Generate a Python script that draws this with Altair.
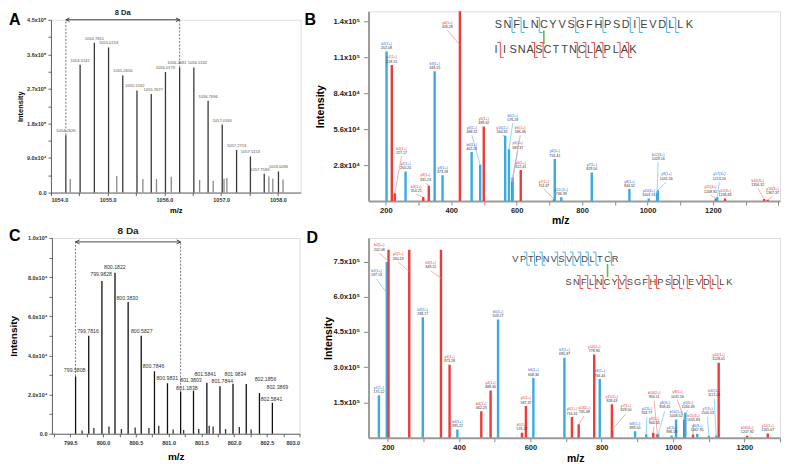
import altair as alt
import pandas as pd

FONT = "Liberation Sans"
BLUE = "#3aabe2"
RED = "#ef3a3a"
BLUE_TXT = "#2f62d8"
RED_TXT = "#e8322f"
BLUE_LEAD = "#6cc6ef"
RED_LEAD = "#f28a8a"
GREEN = "#66bb44"

# ---------------- Panel A (MS1 isotope cluster) ----------------
A_mz = [1054.2626, 1054.5141, 1054.7651, 1055.0153, 1055.2656, 1055.5162, 1055.7677,
        1056.0179, 1056.2681, 1056.5182, 1056.7696, 1057.0184, 1057.2713, 1057.5153,
        1057.7588, 1058.0096]
A_int = [149000, 333000, 390000, 378000, 305000, 266000, 257000, 314000, 326000, 326000,
         239000, 177000, 111000, 94000, 49000, 55000]
# label anchors (m/z, intensity) where the label is not centred over its peak
A_lab_pos = {1055.5162: (1055.48, 266000), 1055.7677: (1055.80, 257000),
             1056.2681: (1056.22, 326000), 1056.5182: (1056.58, 326000),
             1057.7588: (1057.68, 49000)}
A_minor_mz = [1054.34, 1055.16, 1055.62, 1055.86, 1056.12, 1056.62, 1056.86, 1057.05,
              1057.10, 1057.84, 1057.91, 1058.09]
A_minor_int = [35000, 43000, 35000, 35000, 41000, 33000, 31000, 36000, 38000, 42000,
               36000, 34000]
A_span = [1054.2626, 1056.2681]
A_level = 450000
A_xticks = [1054.0, 1054.5, 1055.0, 1055.5, 1056.0, 1056.5, 1057.0, 1057.5, 1058.0]
A_yticks = [0, 45000, 90000, 135000, 180000, 225000, 270000, 315000, 360000, 405000, 450000]
A_ylabels = {0: "0.0", 90000: "9.0x10⁴", 180000: "1.8x10⁵", 270000: "2.7x10⁵",
             360000: "3.6x10⁵", 450000: "4.5x10⁵"}

# ---------------- Panel C (MS1 isotope cluster) ----------------
C_mz = [799.5808, 799.7816, 799.9828, 800.1822, 800.3830, 800.5827, 800.7846, 800.9831,
        801.1838, 801.3803, 801.5841, 801.7844, 801.9834, 802.1856, 802.3869, 802.5841]
C_int = [29300, 50000, 78000, 82200, 67300, 50000, 31900, 25800, 21500, 22000, 26100,
         24200, 25500, 25400, 20800, 15800]
C_lab_pos = {799.5808: (799.567, 30800), 799.7816: (799.77, 50900),
             799.9828: (799.97, 79900), 800.1822: (800.18, 83500),
             800.3830: (800.37, 67700), 800.5827: (800.59, 50900),
             800.7846: (800.77, 33100), 800.9831: (800.98, 27000),
             801.1838: (801.28, 21900), 801.3803: (801.34, 25700),
             801.5841: (801.56, 29000), 801.7844: (801.82, 25400),
             801.9834: (802.02, 29000), 802.1856: (802.48, 26200),
             802.3869: (802.66, 22400), 802.5841: (802.57, 16300)}
C_minor_mz = [799.68, 799.86, 800.09, 800.28, 800.49, 800.70, 800.85, 801.07, 801.23,
              801.46, 801.62, 801.68, 801.87, 802.08, 802.26]
C_minor_int = [1700, 2900, 3700, 2400, 3200, 2900, 4100, 2200, 1900, 2400, 4100, 3700,
               2400, 3400, 2200]
C_span = [799.5808, 801.1838]
C_level = 98000
C_xticks = [799.25 + 0.25 * i for i in range(16)]
C_yticks = [0, 10000, 20000, 30000, 40000, 50000, 60000, 70000, 80000, 90000, 100000]
C_ylabels = {0: "0.0", 20000: "2.0x10⁴", 40000: "4.0x10⁴", 60000: "6.0x10⁴",
             80000: "8.0x10⁴", 100000: "1.0x10⁵"}

# ---------------- Panel B (MS2) ----------------
B_mz = [202.08, 218.15, 227.17, 260.20, 314.21, 331.23, 349.15, 373.28, 426.28, 462.23,
        488.31, 499.32, 564.81, 576.28, 586.36, 587.37, 612.41, 714.37, 716.42, 736.39,
        829.50, 944.52, 1003.74, 1029.16, 1031.56, 1208.92, 1213.24, 1236.83, 1356.32,
        1367.37]
B_int = [116400, 106000, 6000, 23100, 3100, 11900, 101000, 20000, 150000, 38100,
         28200, 58100, 50800, 40400, 15000, 18400, 24100, 1500, 32700, 2900,
         22300, 9300, 2000, 6500, 8500, 2000, 3000, 2000, 1500, 1000]
B_ion = ["b2(1+)", "y2(1+)", "b2(1+)", "y2(1+)", "b3(1+)", "y3(1+)", "b3(1+)", "y3(1+)",
         "y4(1+)", "b4(1+)", "y4(1+)", "y5(1+)", "y10(2+)", "b5(1+)", "b6(1+)", "y5(1+)",
         "y6(1+)", "y7(1+)", "y6(1+)", "y13 (2+)", "y7(1+)", "y8(1+)", "y20(4+)",
         "b12(3+)", "y9(1+)", "y11(3+)", "y17(3+)", "y12(3+)", "b16(3+)", "y16(3+)"]
B_kind = ["b", "r", "r", "b", "r", "r", "b", "b", "r", "b", "b", "r", "b", "b", "r", "b",
          "r", "r", "b", "b", "b", "b", "b", "b", "b", "r", "b", "r", "r", "r"]
# offset labels: peak m/z -> (label m/z, label intensity, leader end intensity)
B_leads = {227.17: (248, 35000, 6000), 314.21: (293, 5400, 3100),
           331.23: (321, 14000, 11900), 426.28: (388, 133000, 121600),
           488.31: (463, 51300, 28200), 564.81: (556, 50800, 50800),
           576.28: (588, 60700, 40400),
           586.36: (611, 51300, 15000), 587.37: (603, 39000, 18400),
           714.37: (683, 9300, 1500), 1029.16: (1032.5, 30300, 6500),
           1031.56: (1057.5, 14800, 8500), 1208.92: (1192.5, 4700, 2000),
           1213.24: (1219.5, 14800, 3000), 1356.32: (1337, 10000, 1500),
           1367.37: (1382, 3500, 1000)}
B_xticks = list(range(200, 1401, 100))
B_yticks = [28000, 56000, 84000, 112000, 140000]
B_ylabels = {28000: "2.8x10⁴", 56000: "5.6x10⁴", 84000: "8.4x10⁴", 112000: "1.1x10⁵",
             140000: "1.4x10⁵"}
B_seq1 = "SNFLNCYVSGFHPSDIEVDLLK"
B_gaps1 = [2, 3, 5, 9, 12, 15, 16, 19, 20]
B_seq2 = "IISNASCTTNCLAPLAK"
B_gaps2 = [1, 5, 6, 10, 11, 12, 13, 15, 16]
B_link = 5

# ---------------- Panel D (MS2) ----------------
D_mz = [175.12, 197.13, 202.08, 260.19, 298.17, 349.15, 373.28, 395.22, 462.23, 488.30,
        509.27, 576.27, 587.37, 608.34, 695.37, 716.41, 735.38, 778.90, 794.44, 828.43,
        829.50, 893.50, 924.77, 944.53, 956.11, 958.45, 996.19, 1008.52, 1031.56,
        1034.49, 1055.83, 1067.91, 1100.53, 1121.01, 1128.01, 1207.92, 1265.67]
D_int = [181000, 748000, 800000, 800000, 513000, 800000, 311000, 35000, 113000, 201000,
         503000, 21000, 135000, 254000, 340000, 88000, 57000, 354000, 250000, 142000,
         35000, 28000, 15000, 21000, 15000, 15000, 10000, 78000, 78000, 106000, 14000,
         17000, 8000, 10000, 319000, 8000, 18000]
D_ion = ["y1(1+)", "b2(1+)", "b2(1+)", "y2(1+)", "b3(1+)", "b3(1+)", "y3(1+)", "b4(1+)",
         "b4(1+)", "y4(1+)", "b5(1+)", "b5(1+)", "y5(1+)", "b6(1+)", "b7(1+)", "y6(1+)",
         "y13(2+)", "y14(2+)", "b8(1+)", "y15(2+)", "y7(1+)", "b9(1+)", "y2(3+)", "y8(1+)",
         "b10(2+)", "y8(3+)", "y4(3+)", "b10(1+)", "y9(1+)", "y5(3+)", "b15(3+)",
         "y6(3+)", "y7(3+)", "b11(1+)", "y10(1+)", "b16(3+)", "y11(1+)"]
D_kind = ["b", "b", "r", "r", "b", "r", "r", "b", "r", "r", "b", "r", "r", "b", "b", "r",
          "r", "r", "b", "r", "r", "b", "b", "r", "r", "b", "b", "b", "r", "b", "r", "b",
          "b", "b", "r", "r", "r"]
D_leads = {197.13: (168.3, 676000, 616000), 202.08: (175.8, 786000, 750000),
           260.19: (229, 748000, 708000), 349.15: (320.7, 710000, 680000),
           735.38: (751, 93500, 57000), 829.50: (868, 102000, 35000),
           924.77: (926.6, 89000, 15000), 944.53: (947, 47000, 21000),
           956.11: (947, 157000, 15000), 958.45: (977, 115000, 15000),
           1031.56: (1012.6, 161000, 78000), 1034.49: (1042, 116000, 106000),
           1055.83: (1057.5, 59000, 14000),
           1100.53: (1096.8, 89000, 8000), 1121.01: (1115.5, 166000, 10000)}
D_xticks = list(range(200, 1301, 100))
D_yticks = [150000, 300000, 450000, 600000, 750000]
D_ylabels = {150000: "1.5x10⁵", 300000: "3.0x10⁵", 450000: "4.5x10⁵", 600000: "6.0x10⁵",
             750000: "7.5x10⁵"}
D_seq1 = "VPTPNVSVVDLTCR"
D_gaps1 = [2, 3, 4, 6, 7, 8, 9, 10, 11, 13]
D_seq2 = "SNFLNCYVSGFHPSDIEVDLLK"
D_gaps2 = [2, 3, 4, 5, 7, 8, 11, 12, 14, 15, 16, 18, 19, 20]
D_link = 12


def expr_map(mapping):
    s = "''"
    for k in sorted(mapping, reverse=True):
        s = f"datum.value == {k} ? '{mapping[k]}' : {s}"
    return s


def letter_layer(letter, lx, ly):
    return alt.Chart(pd.DataFrame({"t": [letter]})).mark_text(
        font=FONT, fontSize=16, fontWeight="bold", align="left", baseline="middle",
        color="black").encode(text="t:N", x=alt.value(lx), y=alt.value(ly))


def iso_panel(letter, lpos, mz, inten, lab_pos, mmz, mint, span, level, xdom, ydom, W, H,
              xticks, xexpr, yticks, ylabels, st):
    xs = alt.Scale(domain=xdom, nice=False, zero=False)
    ys = alt.Scale(domain=ydom, nice=False)
    xax = alt.Axis(values=xticks, labelExpr=xexpr, labelFont=FONT,
                   labelFontSize=st["lab"], labelFontWeight="bold", labelColor="#333",
                   labelPadding=st["xpad"], tickSize=3, tickColor="#444", tickWidth=0.8,
                   domainColor="#444", domainWidth=0.8, grid=False, labelAngle=0,
                   title="m/z", titleFont=FONT, titleFontSize=st["title"],
                   titleFontWeight="bold", titleX=W / 2, titleY=st["ty"],
                   titleAlign="center", titleBaseline="middle", labelOverlap=False)
    yax = alt.Axis(values=yticks, labelExpr=expr_map(ylabels), labelFont=FONT,
                   labelFontSize=st["lab"], labelFontWeight="bold", labelColor="#333",
                   labelPadding=2, tickSize=3, tickColor="#444", tickWidth=0.8,
                   domainColor="#444", domainWidth=0.8, grid=False,
                   title="Intensity", titleFont=FONT, titleFontSize=st["title"],
                   titleFontWeight="bold", titleX=st["tx"], titleY=H / 2, titleAngle=270,
                   titleAlign="center", titleBaseline="middle", labelOverlap=False)
    main = pd.DataFrame({"mz": mz, "int": inten, "lab": [f"{v:.4f}" for v in mz]})
    main["lx"] = [lab_pos[m][0] if m in lab_pos else m for m in mz]
    main["ly"] = [lab_pos[m][1] if m in lab_pos else v for m, v in zip(mz, inten)]
    minor = pd.DataFrame({"mz": mmz, "int": mint})
    lookup = dict(zip(mz, inten))
    dash = pd.DataFrame({"mz": span, "y": [lookup[s] for s in span], "y2": [level] * 2})
    arrow = pd.DataFrame({"mz": [span[0]], "mz2": [span[1]], "y": [level]})
    heads = pd.DataFrame({"mz": span, "y": [level] * 2,
                          "shape": ["M2,-1L0,0L2,1", "M-2,-1L0,0L-2,1"]})
    txt = pd.DataFrame({"mz": [sum(span) / 2], "y": [level], "t": ["8 Da"]})

    def X(f):
        return alt.X(f"{f}:Q", scale=xs, axis=xax)

    def Y(f):
        return alt.Y(f"{f}:Q", scale=ys, axis=yax)

    bars_minor = alt.Chart(minor).mark_rule(color=st["minor"], strokeWidth=st["bw"]).encode(
        x=X("mz"), y=Y("int"), y2=alt.datum(0))
    bars = alt.Chart(main).mark_rule(color=st["bar"], strokeWidth=st["bw"]).encode(
        x=X("mz"), y=Y("int"), y2=alt.datum(0))
    labels = alt.Chart(main).mark_text(font=FONT, fontSize=st["pk"], color=st["pkc"],
                                       baseline="bottom", dy=st["pkdy"]).encode(
        x=X("lx"), y=Y("ly"), text="lab:N")
    dashes = alt.Chart(dash).mark_rule(color="#555", strokeWidth=0.8,
                                       strokeDash=[2, 1.5]).encode(
        x=X("mz"), y=Y("y"), y2="y2:Q")
    arr = alt.Chart(arrow).mark_rule(color="#333", strokeWidth=0.9).encode(
        x=X("mz"), x2="mz2:Q", y=Y("y"))
    hd = alt.Chart(heads).mark_point(filled=False, color="#333", strokeWidth=0.9,
                                     size=st["hs"], opacity=1).encode(
        x=X("mz"), y=Y("y"), shape=alt.Shape("shape:N", scale=None))
    da = alt.Chart(txt).mark_text(font=FONT, fontSize=st["da"], fontWeight="bold",
                                  color="#222", baseline="bottom", dy=st["dady"]).encode(
        x=X("mz"), y=Y("y"), text="t:N")
    return alt.layer(bars_minor, bars, labels, dashes, arr, hd, da,
                     letter_layer(letter, *lpos)).properties(width=W, height=H)


def seq_layer(seq, gaps, row, xr, yr, color, fs, h, w, link=None, link_y=None):
    n = len(seq)
    xs = alt.Scale(domain=[0, n - 1], range=xr)
    ys = alt.Scale(domain=[0, 1], range=yr)
    letters = pd.DataFrame({"x": list(range(n)), "ch": list(seq), "y": [row] * n})
    segs = []
    for g in gaps:
        xg = g - 0.5
        segs.append((xg, xg, row - h, row + h))
        segs.append((xg - w, xg, row - h, row - h))
        segs.append((xg, xg + w, row + h, row + h))
    sd = pd.DataFrame(segs, columns=["x", "x2", "y", "y2"])
    br = alt.Chart(sd).mark_rule(color=color, strokeWidth=0.9).encode(
        x=alt.X("x:Q", scale=xs, axis=None), x2="x2:Q",
        y=alt.Y("y:Q", scale=ys, axis=None), y2="y2:Q")
    tx = alt.Chart(letters).mark_text(font=FONT, fontSize=fs, color="#444",
                                      baseline="middle", align="center").encode(
        x=alt.X("x:Q", scale=xs, axis=None), y=alt.Y("y:Q", scale=ys, axis=None),
        text="ch:N")
    layers = [br, tx]
    if link is not None:
        ld = pd.DataFrame({"x": [link], "y": [link_y[0]], "y2": [link_y[1]]})
        layers.append(alt.Chart(ld).mark_rule(color=GREEN, strokeWidth=1.6).encode(
            x=alt.X("x:Q", scale=xs, axis=None),
            y=alt.Y("y:Q", scale=ys, axis=None), y2="y2:Q"))
    return alt.layer(*layers)


def ms2_panel(letter, lpos, mz, inten, ion, kind, leads, xdom, ydom, W, H, xticks, yticks,
              ylabels, st, seqs):
    xs = alt.Scale(domain=xdom, nice=False, zero=False)
    ys = alt.Scale(domain=ydom, nice=False)
    xax = alt.Axis(values=xticks,
                   labelExpr="datum.value % 200 == 0 && datum.value <= 1200 ? format(datum.value, 'd') : ''",
                   labelFont=FONT, labelFontSize=7.5, labelFontWeight="bold",
                   labelColor="#222", labelPadding=st["xpad"], tickSize=4,
                   tickColor="#888", tickWidth=1, domainColor="#9b9b9b", domainWidth=2,
                   grid=False, labelAngle=0, labelOverlap=False,
                   title="m/z", titleFont=FONT, titleFontSize=10.5, titleFontWeight="bold",
                   titleX=st["tx"], titleY=st["ty"], titleAlign="center",
                   titleBaseline="middle")
    yax = alt.Axis(values=yticks, labelExpr=expr_map(ylabels), labelFont=FONT,
                   labelFontSize=7.5, labelFontWeight="bold", labelColor="#222",
                   labelPadding=4, tickSize=5, tickColor="#888", tickWidth=1,
                   domainColor="#9b9b9b", domainWidth=2, grid=False, labelOverlap=False,
                   title="Intensity", titleFont=FONT, titleFontSize=10.5,
                   titleFontWeight="bold", titleX=st["yx"], titleY=H / 2, titleAngle=270,
                   titleAlign="center", titleBaseline="middle")
    df = pd.DataFrame({"mz": mz, "int": inten, "ion": ion, "kind": kind})
    df["val"] = [f"{v:.2f}" for v in mz]
    df["bar_c"] = [BLUE if k == "b" else RED for k in kind]
    df["txt_c"] = [BLUE_TXT if k == "b" else RED_TXT for k in kind]
    df["lead_c"] = [BLUE_LEAD if k == "b" else RED_LEAD for k in kind]
    df["lx"] = [leads[m][0] if m in leads else m for m in mz]
    df["ly"] = [leads[m][1] if m in leads else v for m, v in zip(mz, inten)]
    df["ey"] = [leads[m][2] if m in leads else v for m, v in zip(mz, inten)]
    ld = df[[m in leads for m in mz]]

    def X(f):
        return alt.X(f"{f}:Q", scale=xs, axis=xax)

    def Y(f):
        return alt.Y(f"{f}:Q", scale=ys, axis=yax)

    bars = alt.Chart(df).mark_rule(strokeWidth=2.4, clip=True).encode(
        x=X("mz"), y=Y("int"), y2=alt.datum(0), color=alt.Color("bar_c:N", scale=None))
    lead = alt.Chart(ld).mark_rule(strokeWidth=0.7).encode(
        x=X("lx"), y=Y("ly"), x2="mz:Q", y2="ey:Q",
        color=alt.Color("lead_c:N", scale=None))
    vals = alt.Chart(df).mark_text(font=FONT, fontSize=3.6, color="#333",
                                   baseline="bottom", dy=-1.4).encode(
        x=X("lx"), y=Y("ly"), text="val:N")
    names = alt.Chart(df).mark_text(font=FONT, fontSize=3.6, baseline="bottom",
                                    dy=-5.6).encode(
        x=X("lx"), y=Y("ly"), text="ion:N", color=alt.Color("txt_c:N", scale=None))
    spec = alt.layer(bars, lead, vals, names, letter_layer(letter, *lpos))
    return alt.layer(spec, *seqs).resolve_scale(
        x="independent", y="independent").properties(width=W, height=H)


# --------------- build panels ---------------
WA, HA = 250, 173
WB, HB = 412, 190
WC, HC = 248, 196
WD, HD = 412, 200

panel_A = iso_panel(
    "A", (-42, 0.5), A_mz, A_int, A_lab_pos, A_minor_mz, A_minor_int, A_span, A_level,
    [1054.0, 1058.4], [0, 450000], WA, HA, A_xticks,
    "datum.value % 1 == 0 ? format(datum.value, '.1f') : ''", A_yticks, A_ylabels,
    dict(lab=5.5, title=7.5, ty=18, tx=-30, xpad=2, bar="#3a3a3a", minor="#8a8a8a",
         bw=1.3, pk=4.1, pkc="#555", pkdy=-2, da=7.5, dady=-2.5, hs=14))

panel_C = iso_panel(
    "C", (-43, -2), C_mz, C_int, C_lab_pos, C_minor_mz, C_minor_int, C_span, C_level,
    [799.22, 803.0], [0, 100000], WC, HC, C_xticks,
    "(datum.value * 2) % 1 == 0 ? format(datum.value, '.1f') : ''", C_yticks, C_ylabels,
    dict(lab=5.5, title=10, ty=23, tx=-38, xpad=4, bar="#111", minor="#333",
         bw=1.3, pk=5.2, pkc="#333", pkdy=0, da=10, dady=-5.5, hs=16))

B_seq_layers = [
    seq_layer(B_seq1, B_gaps1, 0, [130, 321.3], [13.7, 38.7], BLUE, 11, 0.3, 0.38,
              link=B_link, link_y=(0.22, 0.76)),
    seq_layer(B_seq2, B_gaps2, 1, [127.7, 264.7], [13.7, 38.7], RED, 11, 0.3, 0.38),
]
panel_B = ms2_panel(
    "B", (-64, 9), B_mz, B_int, B_ion, B_kind, B_leads, [147, 1405], [0, 147778], WB, HB,
    B_xticks, B_yticks, B_ylabels, dict(xpad=1, tx=192, ty=19, yx=-48), B_seq_layers)

D_seq_layers = [
    seq_layer(D_seq1, D_gaps1, 0, [147, 247], [20.7, 44], BLUE, 9.3, 0.28, 0.4,
              link=D_link, link_y=(0.23, 0.8)),
    seq_layer(D_seq2, D_gaps2, 1, [200.3, 361.3], [20.7, 44], RED, 9.3, 0.28, 0.4),
]
panel_D = ms2_panel(
    "D", (-62, 0), D_mz, D_int, D_ion, D_kind, D_leads, [146, 1300], [0, 850000], WD, HD,
    D_xticks, D_yticks, D_ylabels, dict(xpad=2, tx=207, ty=20.5, yx=-40), D_seq_layers)

chart = alt.concat(
    panel_A, panel_B, panel_C, panel_D, columns=2,
    spacing={"row": 37, "column": 68}, bounds="flush", center=True
).properties(padding=0).configure_view(stroke=None).configure(font=FONT)

chart.save("out.html", embed_options={"renderer": "svg", "actions": False})
